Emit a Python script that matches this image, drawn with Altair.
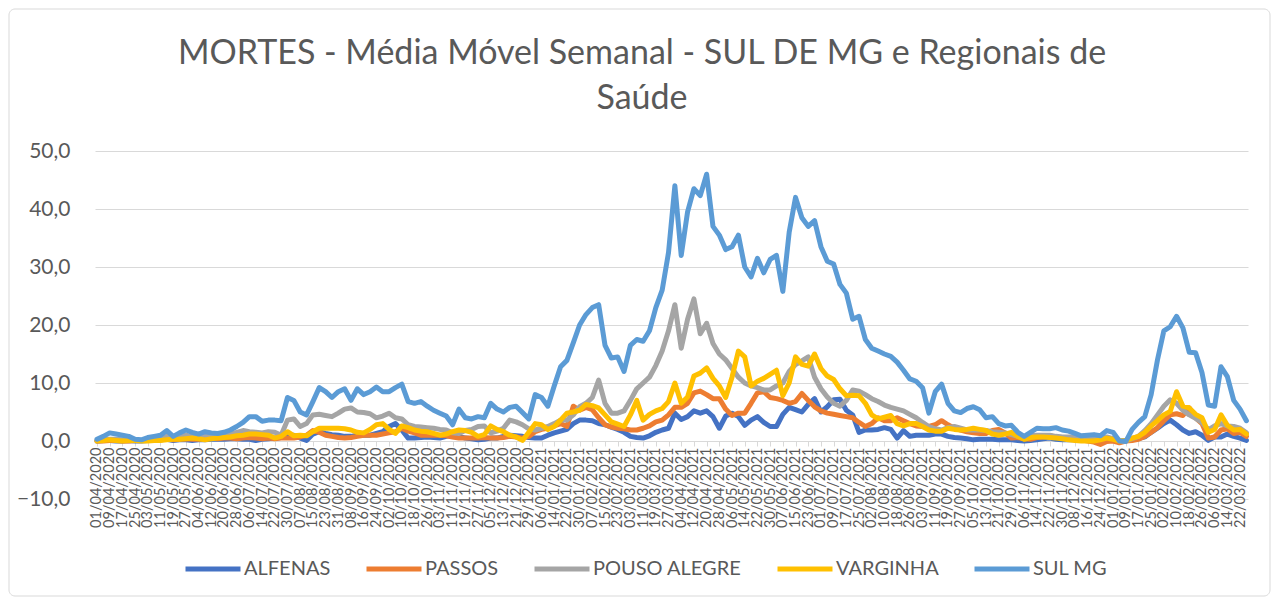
import altair as alt
import pandas as pd
from datetime import datetime, timedelta, timezone

# ---------------- data ----------------
START = datetime(2020, 4, 1, tzinfo=timezone.utc)
# sample dates: every 4 days from 01/04/2020
dates = [(START + timedelta(days=4 * i)).strftime("%Y-%m-%d") for i in range(182)]
# category-axis labels shown every 8 days
tick_dates = [START + timedelta(days=8 * i) for i in range(91)]
tick_values = [int(d.timestamp() * 1000) for d in tick_dates]

title_lines = ["MORTES - Média Móvel Semanal - SUL DE MG e Regionais de", "Saúde"]
series_names = ["ALFENAS", "PASSOS", "POUSO ALEGRE", "VARGINHA", "SUL MG"]
series_colors = ["#4472C4", "#ED7D31", "#A5A5A5", "#FFC000", "#5B9BD5"]

alfenas = [
    0.0, 0.1, 0.1, 0.0, 0.0, 0.1, 0.0, 0.0, 0.1, 0.1,
    0.2, 0.3, 0.1, 0.2, 0.2, 0.1, 0.2, 0.2, 0.3, 0.3,
    0.3, 0.4, 0.4, 0.3, 0.3, 0.1, 0.3, 0.4, 0.5, 0.6,
    0.8, 1.0, 0.5, 0.1, 1.2, 1.6, 1.3, 1.1, 1.0, 0.8,
    0.8, 1.0, 1.0, 1.0, 1.3, 1.6, 2.5, 3.0, 1.9, 0.5,
    0.5, 0.6, 0.7, 0.6, 0.5, 0.8, 1.0, 0.8, 0.5, 0.4,
    0.2, 0.3, 0.5, 0.5, 0.8, 1.0, 0.9, 0.8, 0.6, 0.5,
    0.5, 1.0, 1.4, 1.7, 2.0, 3.0, 3.6, 3.6, 3.5, 3.0,
    2.8, 2.4, 2.0, 1.5, 0.8, 0.6, 0.5, 0.9, 1.5, 1.9,
    2.2, 4.8, 3.7, 4.2, 5.2, 4.8, 5.2, 4.2, 2.2, 4.3,
    4.8, 4.2, 2.7, 3.6, 4.2, 3.2, 2.5, 2.5, 4.6, 5.8,
    5.4, 5.0, 6.3, 7.3, 5.0, 5.9, 7.1, 7.2, 5.3, 4.5,
    1.5, 1.9, 1.9, 2.0, 2.3, 2.0, 0.5, 1.8, 0.8, 1.0,
    1.0, 1.0, 1.2, 1.2, 0.8, 0.6, 0.5, 0.4, 0.2, 0.3,
    0.3, 0.3, 0.2, 0.2, 0.2, 0.1, 0.0, 0.1, 0.2, 0.4,
    0.5, 0.3, 0.2, 0.2, 0.2, 0.1, 0.1, 0.2, 0.2, 0.2,
    0.1, 0.0, 0.1, 0.2, 0.4, 0.7, 1.5, 2.2, 3.0, 3.6,
    2.8, 1.9, 1.3, 1.6, 1.0, 0.1, 0.7, 0.7, 1.2, 0.8,
    0.5, 0.1,
]

passos = [
    0.0, 0.0, 0.1, 0.1, 0.0, 0.0, 0.1, 0.1, 0.1, 0.2,
    0.2, 0.3, 0.2, 0.3, 0.4, 0.3, 0.3, 0.4, 0.5, 0.4,
    0.5, 0.5, 0.4, 0.5, 0.6, 0.5, 0.4, 0.5, 0.4, 0.5,
    0.5, 0.5, 0.7, 1.0, 1.8, 1.5, 1.0, 0.8, 0.6, 0.5,
    0.6, 0.8, 1.0, 1.0, 1.0, 1.2, 1.4, 1.6, 2.2, 1.7,
    1.4, 1.0, 1.0, 1.0, 1.0, 0.9, 0.7, 0.5, 0.5, 0.5,
    0.5, 0.6, 0.5, 0.5, 0.6, 0.8, 0.7, 0.5, 0.8, 1.6,
    2.0, 2.2, 2.6, 3.0, 2.5, 6.0, 5.3, 5.8, 5.4, 4.0,
    2.8, 2.4, 2.2, 2.1, 1.9, 1.9, 2.2, 2.6, 3.3, 3.6,
    4.5, 5.8, 5.8, 6.5, 8.3, 8.6, 8.0, 7.3, 7.3, 5.5,
    4.4, 4.8, 4.8, 6.5, 8.3, 8.5, 7.5, 7.3, 7.0, 6.5,
    6.8, 8.2, 7.0, 5.9, 5.2, 4.8, 4.6, 4.4, 4.2, 4.0,
    3.2, 2.5, 3.0, 4.0, 3.5, 3.5, 4.0, 3.5, 3.0, 2.6,
    2.5, 2.5, 2.8, 3.5, 2.8, 2.2, 1.9, 1.6, 1.4, 1.3,
    1.3, 1.8, 2.0, 1.4, 0.5, 0.6, 0.4, 0.3, 0.6, 0.7,
    0.9, 0.7, 0.6, 0.5, 0.4, 0.2, 0.0, -0.2, -0.6, -0.1,
    0.0, -0.3, 0.0, 0.1, 0.3, 0.8, 1.5, 2.3, 3.5, 4.5,
    4.7, 4.4, 5.7, 4.0, 3.0, 0.5, 0.7, 1.9, 2.1, 1.3,
    1.5, 0.8,
]

pouso_alegre = [
    0.1, 0.2, 0.3, 0.3, 0.2, 0.2, 0.1, 0.1, 0.3, 0.5,
    0.6, 0.8, 0.6, 0.8, 1.0, 0.8, 0.7, 0.9, 0.8, 0.9,
    1.0, 1.2, 1.5, 1.8, 1.6, 1.5, 1.4, 1.6, 1.5, 1.0,
    3.6, 3.8, 2.5, 3.0, 4.5, 4.6, 4.4, 4.2, 4.8, 5.5,
    5.7, 5.0, 4.9, 4.7, 4.0, 4.3, 4.8, 4.0, 3.8, 2.8,
    2.5, 2.4, 2.3, 2.2, 2.0, 1.9, 1.4, 1.3, 1.8, 2.0,
    2.5, 2.6, 1.4, 1.7, 2.2, 3.6, 3.3, 2.8, 2.1, 1.9,
    2.2, 2.5, 3.0, 3.6, 3.6, 4.5, 5.9, 6.5, 7.5, 10.5,
    6.5, 4.8, 4.8, 5.2, 7.0, 9.0, 10.0, 11.0, 13.0, 15.5,
    19.0, 23.5, 16.0, 21.0, 24.5, 18.5, 20.3, 16.8, 15.0, 14.0,
    12.5, 11.0, 10.0, 9.5, 9.2, 8.8, 8.8, 9.5, 10.0, 12.0,
    13.2, 13.8, 14.5, 11.0, 9.0, 7.6, 6.5, 6.0, 7.0, 8.8,
    8.6, 8.0, 7.3, 6.8, 6.2, 5.8, 5.5, 5.2, 4.6, 4.0,
    3.2, 2.5, 2.1, 1.9, 2.3, 2.5, 2.2, 1.9, 1.9, 1.9,
    1.8, 1.6, 1.5, 1.4, 1.1, 0.8, 0.7, 0.9, 1.0, 1.0,
    1.0, 0.8, 0.7, 0.7, 0.7, 0.6, 0.7, 0.6, 0.5, 0.7,
    0.4, 0.1, 0.0, 0.4, 0.8, 1.8, 3.0, 4.5, 6.0, 7.1,
    6.5, 5.3, 4.5, 3.9, 3.2, 1.9, 2.6, 3.0, 2.6, 2.5,
    2.2, 1.4,
]

varginha = [
    0.0, 0.1, 0.2, 0.1, 0.0, 0.1, 0.1, 0.0, 0.0, 0.1,
    0.1, 0.2, 0.3, 0.3, 0.4, 0.5, 0.4, 0.2, 0.4, 0.5,
    0.6, 0.7, 0.9, 1.0, 1.2, 1.2, 1.1, 1.0, 0.5, 0.8,
    1.6, 0.9, 1.0, 0.9, 1.6, 2.2, 2.2, 2.2, 2.2, 2.1,
    1.9, 1.5, 1.4, 2.0, 2.8, 3.0, 2.0, 1.3, 2.6, 2.3,
    1.9, 1.7, 1.6, 1.3, 1.0, 1.2, 1.6, 1.9, 1.8, 1.5,
    0.8, 1.1, 2.6, 2.0, 1.6, 1.0, 0.7, 0.1, 1.5, 3.0,
    2.8, 2.0, 2.5, 3.6, 4.8, 5.0, 5.3, 6.3, 6.1, 5.7,
    4.5, 3.3, 2.9, 2.5, 4.5, 7.0, 3.6, 4.6, 5.2, 5.6,
    6.8, 10.0, 6.5, 7.6, 11.2, 11.7, 12.6, 10.8, 9.5, 7.5,
    11.0, 15.5, 14.5, 9.5, 10.3, 10.8, 11.5, 12.2, 7.8, 10.0,
    14.5, 13.2, 12.9, 15.0, 12.5, 11.2, 10.6, 9.0, 7.8, 7.9,
    7.8, 6.5, 4.5, 3.8, 4.1, 4.4, 3.0, 2.6, 3.0, 3.0,
    2.5, 1.9, 1.7, 1.7, 2.2, 2.0, 1.9, 2.0, 2.2, 2.0,
    1.8, 1.2, 1.0, 1.2, 1.5, 0.8, 0.3, 0.6, 0.7, 0.7,
    0.6, 0.5, 0.4, 0.2, 0.1, 0.0, 0.0, 0.0, 0.2, 0.5,
    0.3, 0.0, 0.1, 0.5, 0.8, 1.5, 2.6, 3.5, 4.5, 5.1,
    8.5, 6.0, 5.7, 4.6, 4.0, 1.5, 2.0, 4.5, 2.7, 1.9,
    2.0, 1.2,
]

sul_mg = [
    0.3, 0.8, 1.4, 1.2, 1.0, 0.8, 0.3, 0.2, 0.6, 0.8,
    1.0, 1.8, 0.8, 1.4, 1.9, 1.5, 1.2, 1.6, 1.4, 1.3,
    1.5, 1.9, 2.5, 3.2, 4.2, 4.2, 3.4, 3.6, 3.6, 3.5,
    7.5, 7.0, 5.0, 4.5, 6.8, 9.2, 8.5, 7.5, 8.5, 9.0,
    7.0, 9.0, 8.0, 8.5, 9.3, 8.5, 8.5, 9.2, 9.8, 6.8,
    6.5, 6.8, 6.0, 5.3, 4.8, 4.3, 2.8, 5.5, 4.0, 3.8,
    4.2, 4.0, 6.5, 5.5, 5.0, 5.8, 6.0, 4.9, 3.8, 8.0,
    7.5, 6.0, 9.5, 12.8, 13.9, 16.9, 20.0, 21.8, 23.0, 23.5,
    16.5, 14.3, 14.5, 12.0, 16.5, 17.5, 17.2, 19.0, 23.0, 26.0,
    32.5, 44.0, 32.0, 39.5, 43.5, 42.3, 46.0, 37.0, 35.5, 33.0,
    33.5, 35.5, 30.0, 28.3, 31.5, 29.0, 31.3, 32.0, 25.8, 36.0,
    42.0, 38.5, 37.0, 38.0, 33.5, 31.0, 30.5, 27.0, 25.5, 21.0,
    21.5, 17.5, 16.0, 15.5, 15.0, 14.6, 13.6, 12.2, 10.7, 10.3,
    9.2, 4.8, 8.5, 9.8, 6.5, 5.2, 4.9, 5.6, 5.9, 5.4,
    4.0, 4.2, 3.0, 2.6, 2.7, 1.5, 0.8, 1.5, 2.2, 2.1,
    2.1, 2.3, 1.9, 1.7, 1.3, 0.9, 1.0, 1.1, 0.9, 1.8,
    1.5, 0.0, -0.1, 2.0, 3.2, 4.2, 8.0, 14.0, 19.0, 19.7,
    21.5, 19.5, 15.3, 15.2, 11.8, 6.2, 6.0, 12.8, 11.1, 7.0,
    5.5, 3.5,
]

series_values = [alfenas, passos, pouso_alegre, varginha, sul_mg]
y_ticks = [-10, 0, 10, 20, 30, 40, 50]

rows = []
for name, vals in zip(series_names, series_values):
    assert len(vals) == len(dates), (name, len(vals))
    for d, v in zip(dates, vals):
        rows.append({"date": d, "serie": name, "valor": v})
df = pd.DataFrame(rows)

x_domain = [
    int((START - timedelta(hours=30)).timestamp() * 1000),
    int((START + timedelta(days=725)).timestamp() * 1000),
]

FONT = "Lato"
GREY = "#595959"
W, H = 1153, 348

border = alt.Chart(alt.Data(values=[{}])).mark_rect(
    fillOpacity=0, stroke="#D9D9D9", strokeWidth=1, cornerRadius=6
).encode(
    x=alt.value(-86), x2=alt.value(W + 22), y=alt.value(-142), y2=alt.value(H + 97)
)

title = alt.Chart(alt.Data(values=[{}])).mark_text(
    text=title_lines, align="center", baseline="top", fontSize=34,
    font=FONT, color=GREY, lineHeight=45,
).encode(x=alt.value(547), y=alt.value(-114))

lines = alt.Chart(df).mark_line(
    strokeWidth=5, strokeJoin="round", strokeCap="round"
).encode(
    x=alt.X(
        "date:T",
        scale=alt.Scale(type="utc", domain=x_domain),
        axis=alt.Axis(
            values=tick_values, format="%d/%m/%Y", labelAngle=-90,
            labelAlign="right", labelBaseline="middle", labelFontSize=14.5,
            labelFont=FONT, labelColor=GREY, labelOverlap=False, labelFlush=False,
            labelPadding=1, grid=False, domainColor="#D9D9D9", domainWidth=1,
            tickColor="#D9D9D9", tickSize=5, offset=-58, title=None,
        ),
    ),
    y=alt.Y(
        "valor:Q",
        scale=alt.Scale(domain=[-10, 50], nice=False, zero=False),
        axis=alt.Axis(
            values=y_ticks,
            labelExpr="replace(format(datum.value, '.1f'), '.', ',')",
            labelFontSize=21, labelFont=FONT, labelColor=GREY, labelPadding=25,
            ticks=False, domain=False, grid=True, gridColor="#D9D9D9",
            gridWidth=1, title=None,
        ),
    ),
    color=alt.Color(
        "serie:N",
        sort=series_names,
        scale=alt.Scale(domain=series_names, range=series_colors),
        legend=alt.Legend(
            orient="none", legendX=88, legendY=388, direction="horizontal",
            columns=5, title=None, symbolType="stroke", symbolSize=3025,
            symbolStrokeWidth=5, labelFontSize=20, labelFont=FONT,
            labelColor=GREY, labelOffset=1, columnPadding=25, padding=0,
        ),
    ),
)

chart = alt.layer(border, title, lines).properties(
    width=W,
    height=H,
    autosize=alt.AutoSizeParams(type="none"),
    padding={"left": 87, "top": 143, "right": 23, "bottom": 98},
).configure(background="white").configure_view(strokeWidth=0)

chart.save("out.html", embed_options={"renderer": "svg", "actions": False})
